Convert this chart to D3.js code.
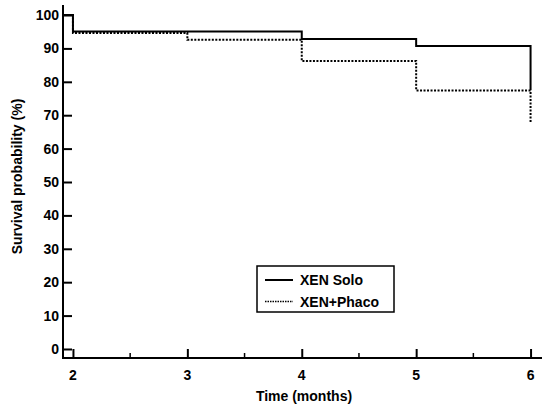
<!DOCTYPE html>
<html>
<head>
<meta charset="utf-8">
<script src="https://cdn.jsdelivr.net/npm/d3@7"></script>
<style>
  body { margin: 0; background: #fff; }
  text { font-family: "Liberation Sans", Arial, sans-serif; font-weight: bold; fill: #000; }
</style>
</head>
<body>
<div id="chart"></div>
<script>
// Kaplan-Meier step data (time in months, survival %)
var soloTimes = [1.9, 2, 4, 5, 6];
var soloSurv = [100, 95.1, 92.8, 90.7, 77.5];
var phacoTimes = [1.9, 2, 3, 4, 5, 6];
var phacoSurv = [100, 94.6, 92.6, 86.2, 77.4, 68];
var xTicks = [2, 3, 4, 5, 6];
var xMinor = [2.5, 3.5, 4.5, 5.5];
var yTicks = [0, 10, 20, 30, 40, 50, 60, 70, 80, 90, 100];
var seriesNames = ["XEN Solo", "XEN+Phaco"];

var svg = d3.select("#chart")
  .append("svg")
  .attr("width", 550)
  .attr("height", 411);

// scales
var x = d3.scaleLinear().domain([1.913, 6.1]).range([63, 542]);
var y = d3.scaleLinear().domain([-2.7, 103]).range([358, 5]);

// clip so the curve starts at the y axis
svg.append("clipPath").attr("id", "plotclip")
  .append("rect").attr("x", 63).attr("y", 0).attr("width", 480).attr("height", 360);

// y axis
var yAxis = svg.append("g")
  .attr("transform", "translate(63,0)")
  .call(d3.axisRight(y).tickValues(yTicks).tickSize(9).tickFormat(""));
yAxis.select(".domain").attr("d", "M0," + y.range()[1] + "V" + y.range()[0]);
yAxis.selectAll("line, path").attr("stroke", "#000").attr("stroke-width", 2);

svg.append("g").selectAll("text")
  .data(yTicks)
  .enter()
  .append("text")
  .attr("x", 59)
  .attr("y", function(d) { return y(d); })
  .attr("dy", "0.36em")
  .attr("text-anchor", "end")
  .style("font-size", "14px")
  .text(function(d) { return d; });

// x axis
var xAxis = svg.append("g")
  .attr("transform", "translate(0,358)")
  .call(d3.axisTop(x).tickValues(xTicks).tickSize(9).tickFormat(""));
xAxis.select(".domain").attr("d", "M62," + 0 + "H" + x.range()[1]);
xAxis.selectAll("line, path").attr("stroke", "#000").attr("stroke-width", 2);

svg.append("g").selectAll("line")
  .data(xMinor)
  .enter()
  .append("line")
  .attr("x1", function(d) { return x(d); })
  .attr("x2", function(d) { return x(d); })
  .attr("y1", 358)
  .attr("y2", 353)
  .attr("stroke", "#000")
  .attr("stroke-width", 1.5);

svg.append("g").selectAll("text")
  .data(xTicks)
  .enter()
  .append("text")
  .attr("x", function(d) { return x(d); })
  .attr("y", 380)
  .attr("text-anchor", "middle")
  .style("font-size", "14px")
  .text(function(d) { return d; });

// axis titles
svg.append("text")
  .attr("x", 304)
  .attr("y", 401)
  .attr("text-anchor", "middle")
  .style("font-size", "14px")
  .text("Time (months)");

svg.append("text")
  .attr("transform", "translate(22,176.5) rotate(-90)")
  .attr("text-anchor", "middle")
  .style("font-size", "14px")
  .text("Survival probability (%)");

// step curves
var line = d3.line()
  .x(function(d) { return x(d[0]); })
  .y(function(d) { return y(d[1]); })
  .curve(d3.curveStepAfter);

var phacoPts = d3.zip(phacoTimes, phacoSurv);
svg.append("path")
  .datum(phacoPts)
  .attr("clip-path", "url(#plotclip)")
  .attr("d", line)
  .attr("fill", "none")
  .attr("stroke", "#000")
  .attr("stroke-width", 2)
  .attr("stroke-dasharray", "2,1.5");

var soloPts = d3.zip(soloTimes, soloSurv);
svg.append("path")
  .datum(soloPts)
  .attr("clip-path", "url(#plotclip)")
  .attr("d", line)
  .attr("fill", "none")
  .attr("stroke", "#000")
  .attr("stroke-width", 2);

// legend
var legend = svg.append("g").attr("transform", "translate(257,266)");
legend.append("rect")
  .attr("width", 137)
  .attr("height", 46)
  .attr("fill", "#fff")
  .attr("stroke", "#000")
  .attr("stroke-width", 1.5);

var items = legend.selectAll(".item")
  .data(seriesNames)
  .enter()
  .append("g")
  .attr("class", "item")
  .attr("transform", function(d, i) { return "translate(0," + (14 + i * 21.5) + ")"; });

items.append("line")
  .attr("x1", 8)
  .attr("x2", 36)
  .attr("stroke", "#000")
  .attr("stroke-width", function(d, i) { return i === 0 ? 2 : 1.5; })
  .attr("stroke-dasharray", function(d, i) { return i === 0 ? null : "1.5,1"; });

items.append("text")
  .attr("x", 43)
  .attr("dy", "0.36em")
  .style("font-size", "14px")
  .text(function(d) { return d; });
</script>
</body>
</html>
